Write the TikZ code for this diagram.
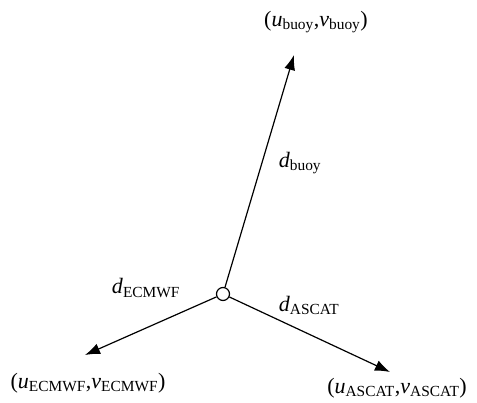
\documentclass[tikz,border=0pt]{standalone}
\usepackage{fontspec}
\setmainfont{Liberation Serif}
\usetikzlibrary{arrows.meta}
\newcommand{\vel}[1]{(\textit{u}\textsubscript{#1},\textit{v}\textsubscript{#1})}
\newcommand{\dst}[1]{\textit{d}\textsubscript{#1}}
\begin{document}
\begin{tikzpicture}[x=1pt,y=-1pt,font=\fontsize{22}{26}\selectfont,
	>={Latex[length=15pt,width=11pt]},line width=1.2pt]
	\useasboundingbox (0,0) rectangle (477,403);
	\node[circle,draw,inner sep=0pt,minimum size=13pt] (o) at (223,294) {};
	\coordinate (buoy) at (294,55);
	\coordinate (ecmwf) at (85,355);
	\coordinate (ascat) at (390,372);
	\draw[->] (o)--(buoy);
	\draw[->] (o)--(ecmwf);
	\draw[->] (o)--(ascat);
	\node (vbuoy) at (316,22) {\vel{buoy}};
	\node (vecmwf) at (88,383) {\vel{ECMWF}};
	\node (vascat) at (397,388) {\vel{ASCAT}};
	\node (dbuoy) at (300,163) {\dst{buoy}};
	\node (decmwf) at (146,288) {\dst{ECMWF}};
	\node (dascat) at (309,305) {\dst{ASCAT}};
\end{tikzpicture}
\end{document}
